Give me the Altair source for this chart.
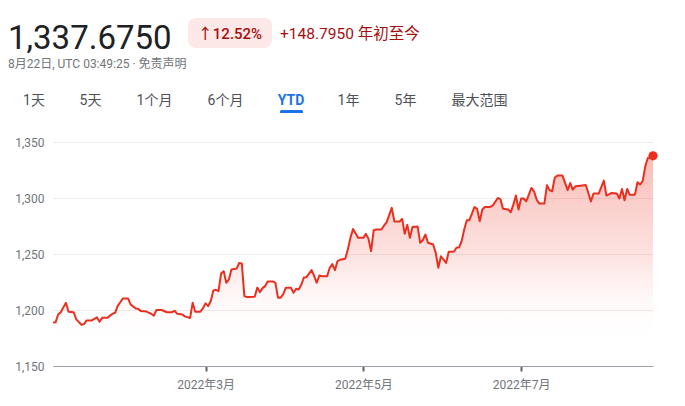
import altair as alt
import pandas as pd

# ---------------- data ----------------
dates = [
    "2022-01-01", "2022-01-02", "2022-01-03", "2022-01-04", "2022-01-06", "2022-01-07", "2022-01-09",
    "2022-01-10", "2022-01-12", "2022-01-13", "2022-01-14", "2022-01-16", "2022-01-18", "2022-01-19",
    "2022-01-20", "2022-01-22", "2022-01-24", "2022-01-25", "2022-01-26", "2022-01-28", "2022-01-30",
    "2022-01-31", "2022-02-02", "2022-02-03", "2022-02-04", "2022-02-06", "2022-02-08", "2022-02-09",
    "2022-02-10", "2022-02-12", "2022-02-14", "2022-02-16", "2022-02-17", "2022-02-18", "2022-02-20",
    "2022-02-21", "2022-02-23", "2022-02-24", "2022-02-25", "2022-02-27", "2022-02-28", "2022-03-01",
    "2022-03-02", "2022-03-03", "2022-03-04", "2022-03-05", "2022-03-06", "2022-03-07", "2022-03-08",
    "2022-03-09", "2022-03-10", "2022-03-11", "2022-03-13", "2022-03-14", "2022-03-15", "2022-03-16",
    "2022-03-17", "2022-03-20", "2022-03-21", "2022-03-22", "2022-03-23", "2022-03-24", "2022-03-25",
    "2022-03-27", "2022-03-28", "2022-03-29", "2022-03-30", "2022-03-31", "2022-04-01", "2022-04-03",
    "2022-04-04", "2022-04-05", "2022-04-06", "2022-04-07", "2022-04-08", "2022-04-09", "2022-04-11",
    "2022-04-12", "2022-04-13", "2022-04-14", "2022-04-15", "2022-04-17", "2022-04-18", "2022-04-19",
    "2022-04-20", "2022-04-21", "2022-04-22", "2022-04-24", "2022-04-25", "2022-04-26", "2022-04-27",
    "2022-04-29", "2022-05-01", "2022-05-02", "2022-05-03", "2022-05-04", "2022-05-05", "2022-05-06",
    "2022-05-08", "2022-05-09", "2022-05-10", "2022-05-12", "2022-05-13", "2022-05-15", "2022-05-16",
    "2022-05-17", "2022-05-18", "2022-05-19", "2022-05-20", "2022-05-22", "2022-05-23", "2022-05-24",
    "2022-05-25", "2022-05-26", "2022-05-28", "2022-05-29", "2022-05-30", "2022-05-31", "2022-06-02",
    "2022-06-03", "2022-06-05", "2022-06-06", "2022-06-07", "2022-06-08", "2022-06-09", "2022-06-10",
    "2022-06-11", "2022-06-13", "2022-06-14", "2022-06-15", "2022-06-16", "2022-06-17", "2022-06-19",
    "2022-06-20", "2022-06-22", "2022-06-23", "2022-06-24", "2022-06-26", "2022-06-27", "2022-06-28",
    "2022-06-29", "2022-06-30", "2022-07-01", "2022-07-02", "2022-07-03", "2022-07-05", "2022-07-06",
    "2022-07-07", "2022-07-08", "2022-07-10", "2022-07-11", "2022-07-12", "2022-07-13", "2022-07-14",
    "2022-07-15", "2022-07-17", "2022-07-19", "2022-07-20", "2022-07-21", "2022-07-22", "2022-07-24",
    "2022-07-26", "2022-07-27", "2022-07-28", "2022-07-29", "2022-07-31", "2022-08-02", "2022-08-03",
    "2022-08-05", "2022-08-07", "2022-08-08", "2022-08-09", "2022-08-10", "2022-08-11", "2022-08-12",
    "2022-08-14", "2022-08-15", "2022-08-16", "2022-08-17", "2022-08-18", "2022-08-19", "2022-08-20",
    "2022-08-21",
]
values = [
    1188.9, 1189.0, 1196.0, 1198.0, 1206.4, 1198.4, 1198.0,
    1191.6, 1186.8, 1187.4, 1190.7, 1190.7, 1193.4, 1189.5,
    1193.0, 1193.0, 1196.6, 1197.5, 1203.5, 1210.3, 1210.3,
    1205.0, 1201.4, 1201.0, 1199.0, 1198.7, 1196.6, 1194.9,
    1200.0, 1200.0, 1198.0, 1198.0, 1199.3, 1196.7, 1196.0,
    1194.3, 1192.8, 1206.4, 1198.4, 1198.4, 1201.7, 1205.9,
    1203.5, 1208.0, 1217.4, 1218.0, 1216.8, 1232.6, 1234.7,
    1224.3, 1227.3, 1236.2, 1237.0, 1242.0, 1241.6, 1212.4,
    1211.5, 1211.8, 1220.0, 1216.0, 1219.5, 1221.3, 1225.5,
    1225.5, 1224.3, 1211.0, 1211.0, 1213.9, 1219.8, 1219.8,
    1215.4, 1219.0, 1218.3, 1222.5, 1229.0, 1229.3, 1235.6,
    1230.2, 1224.3, 1230.8, 1230.2, 1230.2, 1237.7, 1241.0,
    1235.6, 1243.6, 1244.8, 1245.7, 1254.0, 1264.4, 1272.4,
    1264.4, 1264.4, 1268.0, 1263.5, 1252.5, 1271.2, 1271.8,
    1271.8, 1275.4, 1278.4, 1291.2, 1279.0, 1279.0, 1281.3,
    1268.0, 1276.0, 1264.4, 1274.2, 1274.5, 1260.0, 1262.3,
    1267.4, 1260.0, 1258.5, 1251.0, 1237.7, 1248.0, 1242.0,
    1252.0, 1252.0, 1255.6, 1256.0, 1261.4, 1271.8, 1280.2,
    1280.2, 1292.0, 1290.3, 1279.3, 1289.7, 1292.0, 1292.0,
    1293.2, 1300.0, 1299.0, 1290.3, 1289.7, 1287.3, 1294.1,
    1302.2, 1289.7, 1299.5, 1299.5, 1297.1, 1309.0, 1306.0,
    1298.6, 1295.0, 1295.0, 1311.4, 1307.0, 1306.0, 1318.0,
    1320.0, 1320.0, 1307.0, 1313.4, 1307.5, 1310.4, 1311.0,
    1311.6, 1304.5, 1297.0, 1304.0, 1304.0, 1315.5, 1302.2,
    1304.5, 1304.0, 1299.5, 1308.0, 1298.0, 1308.0, 1303.0,
    1303.0, 1314.0, 1312.0, 1315.0, 1328.3, 1335.7, 1336.3,
    1337.675,
]
y_ticks = [1150, 1200, 1250, 1300, 1350]
x_ticks = [(2022, 3, 1), (2022, 5, 1), (2022, 7, 1)]

price_text = "1,337.6750"
change_pct_text = "↑12.52%"
change_abs_text = "+148.7950 年初至今"
time_text = "8月22日, UTC 03:49:25 · 免责声明"
tabs = ["1天", "5天", "1个月", "6个月", "YTD", "1年", "5年", "最大范围"]
active_tab = "YTD"

# ---------------- styling ----------------
FONT = "Roboto, 'Noto Sans CJK SC', sans-serif"
RED = "#eb2f1f"
GRAY = "#70757a"

df = pd.DataFrame({"date": pd.to_datetime(dates), "value": values})
last = df.tail(1)

x_enc = alt.X(
    "date:T",
    title=None,
    scale=alt.Scale(nice=False),
    axis=alt.Axis(
        values=[alt.DateTime(year=y, month=m, date=d) for (y, m, d) in x_ticks],
        format="%Y年%-m月",
        labelFont=FONT, labelFontSize=12, labelColor=GRAY,
        tickSize=5, tickColor="#5f6368", tickWidth=2,
        domainColor="#9aa0a6", domainWidth=1,
        grid=False, labelPadding=8,
    ),
)
y_enc = alt.Y(
    "value:Q",
    title=None,
    scale=alt.Scale(domain=[y_ticks[0], y_ticks[-1]], zero=False, nice=False),
    axis=alt.Axis(
        values=y_ticks, format=",.0f",
        labelFont=FONT, labelFontSize=12, labelColor=GRAY,
        ticks=False, domain=False, labelPadding=9,
        gridColor="#ececec", gridWidth=1,
    ),
)

gradient = alt.Gradient(
    gradient="linear",
    stops=[
        alt.GradientStop(color="rgba(235,47,31,0.32)", offset=0),
        alt.GradientStop(color="rgba(235,47,31,0.12)", offset=0.5),
        alt.GradientStop(color="rgba(255,255,255,0)", offset=0.9),
    ],
    x1=1, x2=1, y1=0, y2=1,
)

base = alt.Chart(df)
area = base.mark_area(fill=gradient).encode(x=x_enc, y=y_enc, y2=alt.datum(y_ticks[0]))
line = base.mark_line(color=RED, strokeWidth=2, strokeJoin="round").encode(x=x_enc, y=y_enc)
dot = alt.Chart(last).mark_circle(color=RED, size=85, opacity=1).encode(x=x_enc, y=y_enc)


def label(txt, x, y, size, color, align="left", baseline="middle", weight="normal"):
    return alt.Chart(pd.DataFrame({"t": [txt]})).mark_text(
        align=align, baseline=baseline, font=FONT, fontSize=size, color=color, fontWeight=weight
    ).encode(text="t:N", x=alt.value(x), y=alt.value(y))


badge = alt.Chart(pd.DataFrame({"t": [change_pct_text]})).mark_rect(
    fill="#fce8e6", cornerRadius=8
).encode(x=alt.value(135), x2=alt.value(219), y=alt.value(-124), y2=alt.value(-94))

underline = alt.Chart(pd.DataFrame({"t": [active_tab]})).mark_rect(
    fill="#1a73e8", cornerRadiusTopLeft=3, cornerRadiusTopRight=3
).encode(x=alt.value(227), x2=alt.value(250), y=alt.value(-32), y2=alt.value(-29))

tab_x = [-19, 37.5, 101.5, 172.5, 238, 295.5, 352.5, 426.5]
tab_layers = []
for t, tx in zip(tabs, tab_x):
    if t == active_tab:
        tab_layers.append(label(t, tx, -41.5, 14, "#1a73e8", align="center", weight="bold"))
    else:
        tab_layers.append(label(t, tx, -41.5, 14, "#4d5156", align="center"))

header = [
    label(price_text, -45, -93.5, 33, "#202124", baseline="alphabetic"),
    badge,
    label(change_pct_text, 177, -108.5, 15, "#a50e0e", align="center", weight=500),
    label(change_abs_text, 227, -108.5, 15.5, "#a50e0e"),
    label(time_text, -45, -78, 12, GRAY),
    underline,
] + tab_layers

chart = alt.layer(area, line, dot, *header).properties(
    width=600,
    height=224,
    padding={"left": 45, "top": 134, "right": 22, "bottom": 30},
    autosize=alt.AutoSizeParams(type="none"),
    background="white",
).configure_view(stroke=None)

chart.save("out.html", embed_options={"renderer": "svg", "actions": False})
